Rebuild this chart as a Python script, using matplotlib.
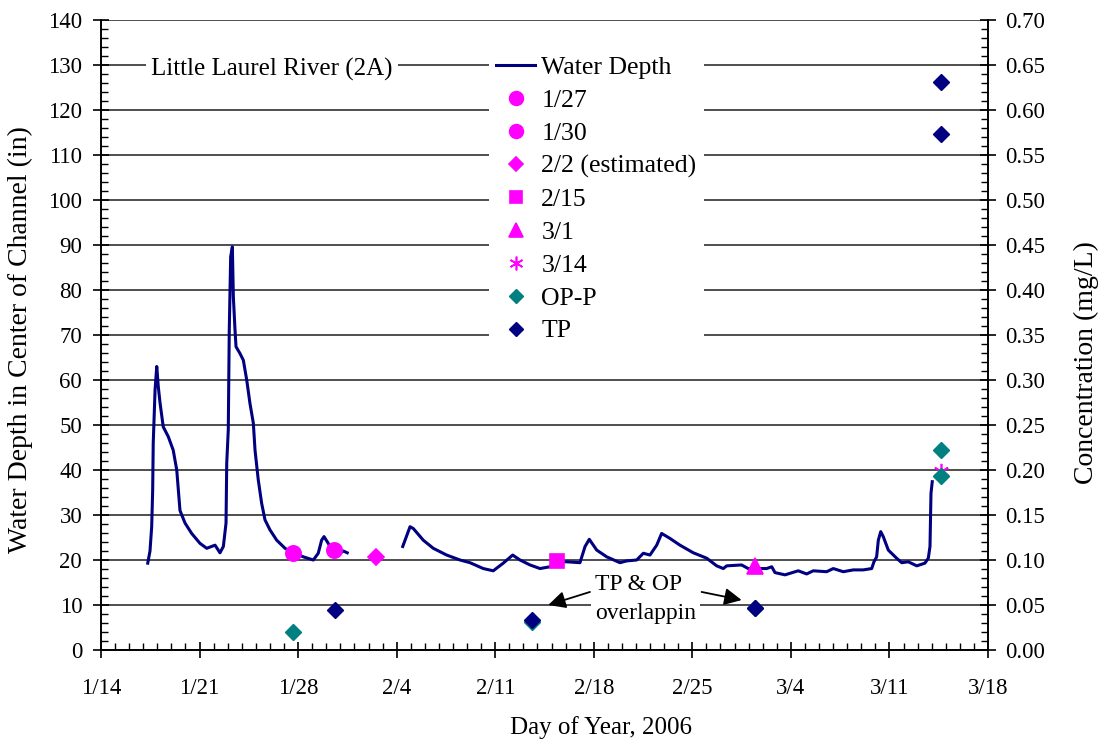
import numpy as np
import matplotlib
matplotlib.use('Agg')
import matplotlib.pyplot as plt
from matplotlib.ticker import MultipleLocator, FixedLocator, FormatStrFormatter
from matplotlib.lines import Line2D

plt.rcParams['font.family'] = ['Liberation Serif', 'DejaVu Serif']

# ---- data (day of year 2006) ----
# water depth, first stretch
depth_day_a = [17.32, 17.48, 17.60, 17.67, 17.71, 17.84, 17.96, 18.07, 18.19, 18.42,
               18.78, 19.13, 19.38, 19.61, 19.97, 20.44, 21.03, 21.51, 22.10, 22.45,
               22.69, 22.88, 22.93, 23.04, 23.11, 23.21, 23.33, 23.40, 23.52, 23.59,
               23.87, 24.11, 24.35, 24.58, 24.82, 24.94, 25.17, 25.41, 25.65, 26.00,
               26.48, 27.07, 27.66, 28.37, 29.08, 29.43, 29.67, 29.84, 30.14, 30.50,
               30.97, 31.21, 31.49]
depth_in_a = [19.3, 22.0, 27.4, 35.5, 46.0, 57.8, 63.0, 58.5, 55.0, 49.6,
              47.4, 44.4, 40.0, 31.0, 28.2, 25.9, 23.7, 22.6, 23.3, 21.6,
              23.0, 28.2, 41.5, 48.9, 71.0, 87.4, 89.6, 78.5, 71.0, 67.4,
              65.9, 64.4, 60.0, 54.8, 50.4, 44.4, 37.8, 32.6, 28.9, 26.7,
              24.4, 22.6, 21.6, 20.7, 20.0, 21.5, 24.4, 25.2, 23.7, 21.8,
              21.5, 22.0, 21.6]
# water depth, second stretch
depth_day_b = [35.43, 35.95, 36.18, 36.89, 37.60, 38.55, 39.50, 40.21, 41.15, 41.86,
               42.57, 43.24, 43.76, 44.47, 45.18, 45.89, 46.37, 47.08, 48.02, 48.38,
               48.68, 49.21, 49.92, 50.86, 51.34, 52.05, 52.52, 52.99, 53.47, 53.82,
               54.41, 55.12, 56.07, 57.02, 57.73, 58.20, 58.44, 59.50, 59.97, 61.28,
               61.64, 61.87, 62.58, 63.52, 64.12, 64.59, 65.54, 66.01, 66.72, 67.43,
               68.14, 68.74, 68.90, 69.09, 69.21, 69.38, 69.56, 69.92, 70.51, 70.87,
               71.34, 71.94, 72.52, 72.76, 72.88, 72.95, 73.04]
depth_in_b = [23.0, 27.4, 27.0, 24.4, 22.6, 21.1, 20.0, 19.4, 18.1, 17.6,
              19.3, 21.1, 20.0, 18.9, 18.1, 18.5, 19.6, 19.6, 19.4, 23.0,
              24.6, 22.2, 20.7, 19.4, 19.8, 20.0, 21.5, 21.1, 23.3, 25.9,
              24.8, 23.3, 21.6, 20.4, 18.7, 18.1, 18.7, 18.9, 18.1, 18.1,
              18.5, 17.2, 16.7, 17.6, 16.9, 17.6, 17.4, 18.1, 17.4, 17.8,
              17.8, 18.1, 19.6, 20.7, 24.4, 26.3, 25.2, 22.2, 20.4, 19.4,
              19.6, 18.7, 19.3, 20.4, 23.0, 34.8, 37.4]

# sampling events (on water depth axis)
sample_labels = ['1/27', '1/30', '2/2 (estimated)', '2/15', '3/1', '3/14']
sample_day = [27.66, 30.55, 33.53, 46.37, 60.45, 73.64]
sample_depth = [21.6, 22.2, 20.6, 19.8, 18.7, 39.8]

# concentrations (mg/L)
opp_day = [27.66, 44.63, 60.45, 73.64, 73.64]
opp_conc = [0.020, 0.031, 0.047, 0.222, 0.193]
tp_day = [30.62, 44.63, 60.45, 73.64, 73.64]
tp_conc = [0.044, 0.033, 0.047, 0.631, 0.573]

xtick_day = [14, 21, 28, 35, 42, 49, 56, 63, 70, 77]
xtick_labels = ['1/14', '1/21', '1/28', '2/4', '2/11', '2/18', '2/25', '3/4', '3/11', '3/18']

NAVY = '#000080'
MAGENTA = '#FF00FF'
TEAL = '#008080'
FS_TICK = 16.5
FS_LEG = 18.5
FS_LAB = 20

fig = plt.figure(figsize=(11.02, 7.44), dpi=100)
ax = fig.add_axes([101 / 1102, 1 - 650 / 744, 887 / 1102, 630 / 744])
ax2 = ax.twinx()

# gridlines
ax.set_axisbelow(True)
ax.yaxis.grid(True, which='major', color='#404040', lw=1.3)

# water depth
ax.plot(depth_day_a, depth_in_a, color=NAVY, lw=2.2, zorder=3)
ax.plot(depth_day_b, depth_in_b, color=NAVY, lw=2.2, zorder=3)

sample_markers = ['o', 'o', 'D', 's', '^', (6, 2, 0)]
sample_sizes = [11, 11, 8, 10, 11, 11]
handles = [Line2D([], [], color=NAVY, lw=2.2)]
for d, v, m, s in zip(sample_day, sample_depth, sample_markers, sample_sizes):
    ax.plot(d, v, ls='none', marker=m, ms=s, color=MAGENTA, mec=MAGENTA,
            mew=1.2, zorder=4)
for m, s in zip(sample_markers, sample_sizes):
    handles.append(Line2D([], [], ls='none', marker=m, ms=s * 0.9, color=MAGENTA,
                          mec=MAGENTA, mew=1.2))

ax2.plot(opp_day, opp_conc, ls='none', marker='D', ms=8, color=TEAL, zorder=4)
ax2.plot(tp_day, tp_conc, ls='none', marker='D', ms=8, color=NAVY, zorder=5)
handles.append(Line2D([], [], ls='none', marker='D', ms=7.5, color=TEAL))
handles.append(Line2D([], [], ls='none', marker='D', ms=7.5, color=NAVY))
labels = ['Water Depth'] + sample_labels + ['OP-P', 'TP']

# axes ranges and ticks
ax.set_xlim(14, 77)
ax.set_ylim(0, 140)
ax2.set_ylim(0, 0.70)
ax.xaxis.set_major_locator(FixedLocator(xtick_day))
ax.set_xticklabels(xtick_labels)
ax.xaxis.set_minor_locator(MultipleLocator(1))
ax.yaxis.set_major_locator(MultipleLocator(10))
ax.yaxis.set_minor_locator(MultipleLocator(2))
ax2.yaxis.set_major_locator(MultipleLocator(0.05))
ax2.yaxis.set_minor_locator(MultipleLocator(0.01))
ax2.yaxis.set_major_formatter(FormatStrFormatter('%.2f'))

for a in (ax, ax2):
    a.spines['top'].set_visible(False)
    for sp in a.spines.values():
        sp.set_linewidth(1.2)
ax.tick_params(which='major', direction='inout', length=11, width=1.2, labelsize=FS_TICK)
ax.tick_params(which='minor', direction='in', length=5, width=1.0)
ax.tick_params(axis='y', which='major', pad=8)
ax.tick_params(axis='x', which='major', pad=15)
ax2.tick_params(which='major', direction='inout', length=11, width=1.2, labelsize=FS_TICK, pad=7)
ax2.tick_params(which='minor', direction='in', length=5, width=1.0)

# axis titles
fig.text(20 / 1102, 1 - 340 / 744, 'Water Depth in Center of Channel (in)', rotation=90,
         ha='center', va='center', fontsize=FS_LAB)
fig.text(1086 / 1102, 1 - 363 / 744, 'Concentration (mg/L)', rotation=90,
         ha='center', va='center', fontsize=FS_LAB)
fig.text(601 / 1102, 1 - 728 / 744, 'Day of Year, 2006', ha='center', va='center', fontsize=18)

# site name
ax.text(26.15, 129.0, 'Little Laurel River (2A)', ha='center', va='center', fontsize=18,
        bbox=dict(facecolor='white', edgecolor='none', pad=4), zorder=6)

# overlap note
ax.text(49.09, 11.4, 'TP & OP\noverlappin', ha='left', va='center', fontsize=17,
        linespacing=1.5, bbox=dict(facecolor='white', edgecolor='none', pad=3), zorder=6)
arrow = dict(arrowstyle='-|>', color='black', lw=1.3, mutation_scale=26, shrinkA=0, shrinkB=0)
ax.annotate('', xy=(45.77, 10.0), xytext=(48.73, 12.9), arrowprops=arrow, zorder=7)
ax.annotate('', xy=(59.50, 11.1), xytext=(56.66, 12.9), arrowprops=arrow, zorder=7)

leg = ax2.legend(handles, labels, loc='upper left', bbox_to_anchor=(0.437, 0.955),
                 fontsize=FS_LEG, frameon=True, fancybox=False, framealpha=1,
                 facecolor='white', edgecolor='none', handlelength=1.5,
                 handletextpad=0.25, labelspacing=0.385, borderpad=0.3, borderaxespad=0)
leg.set_zorder(10)

fig.savefig('out.png', dpi=100)
